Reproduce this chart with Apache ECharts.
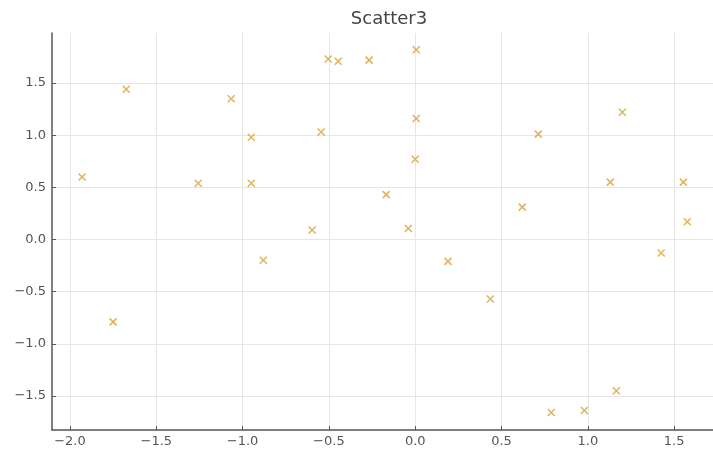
<!DOCTYPE html>
<html><head><meta charset="utf-8">
<script src="https://cdn.jsdelivr.net/npm/echarts@6/dist/echarts.min.js"></script>
<style>html,body{margin:0;padding:0;background:#fff;overflow:hidden}#c{width:713px;height:451px}</style>
</head><body><div id="c"></div>
<script>
const title = "Scatter3";
const xValues = [-1.93,-1.674,-1.75,-1.257,-1.066,-0.95,-0.95,-0.88,-0.597,-0.545,-0.504,-0.446,-0.267,-0.168,-0.04,0.006,0.006,0.0,0.19,0.435,0.62,0.713,0.788,0.98,1.13,1.165,1.2,1.425,1.553,1.576];
const yValues = [0.60,1.44,-0.79,0.54,1.35,0.98,0.54,-0.20,0.09,1.03,1.73,1.71,1.72,0.43,0.105,1.82,1.16,0.77,-0.21,-0.57,0.31,1.01,-1.66,-1.64,0.55,-1.45,1.22,-0.13,0.55,0.17];
const xRange = [-2.104, 1.725];
const yRange = [-1.827, 1.98];

const pts = xValues.map((x,i)=>[x,yValues[i]]);
const fmt = v => { let s = Math.abs(v) < 1e-9 ? "0.0" : v.toFixed(1); return s.replace('-', '\u2212'); };
const axisCommon = {
  type: 'value',
  minInterval: 0.5, maxInterval: 0.5,
  axisLine: {show: true, onZero: false, lineStyle: {color: '#555', width: 1.5}},
  axisTick: {show: true, inside: true, length: 4, lineStyle: {color: '#555'}},
  axisLabel: {color: '#555', fontSize: 13, fontFamily: 'DejaVu Sans', formatter: fmt, showMinLabel: false, showMaxLabel: false},
  splitLine: {show: true, showMinLine: false, showMaxLine: false, lineStyle: {color: '#e6e6e6', width: 1}}
};
const chart = echarts.init(document.getElementById('c'), null, {renderer: 'canvas'});
chart.setOption({
  animation: false,
  backgroundColor: '#fff',
  title: {text: title, left: 384, textAlign: 'center', top: 5, textStyle: {fontFamily: 'DejaVu Sans', fontSize: 18, fontWeight: 'normal', color: '#444'}},
  grid: {left: 52, right: 0, top: 33, bottom: 21, containLabel: false},
  xAxis: Object.assign({}, axisCommon, {min: xRange[0], max: xRange[1], axisLabel: Object.assign({}, axisCommon.axisLabel, {margin: 5})}),
  yAxis: Object.assign({}, axisCommon, {min: yRange[0], max: yRange[1], axisLabel: Object.assign({}, axisCommon.axisLabel, {margin: 6})}),
  series: [{
    type: 'scatter',
    data: pts,
    symbol: 'path://M0,0L10,10M10,0L0,10',
    symbolSize: 7,
    itemStyle: {color: 'rgba(0,0,0,0)', borderColor: '#D9A030', borderWidth: 1.5}
  }]
});
</script></body></html>
